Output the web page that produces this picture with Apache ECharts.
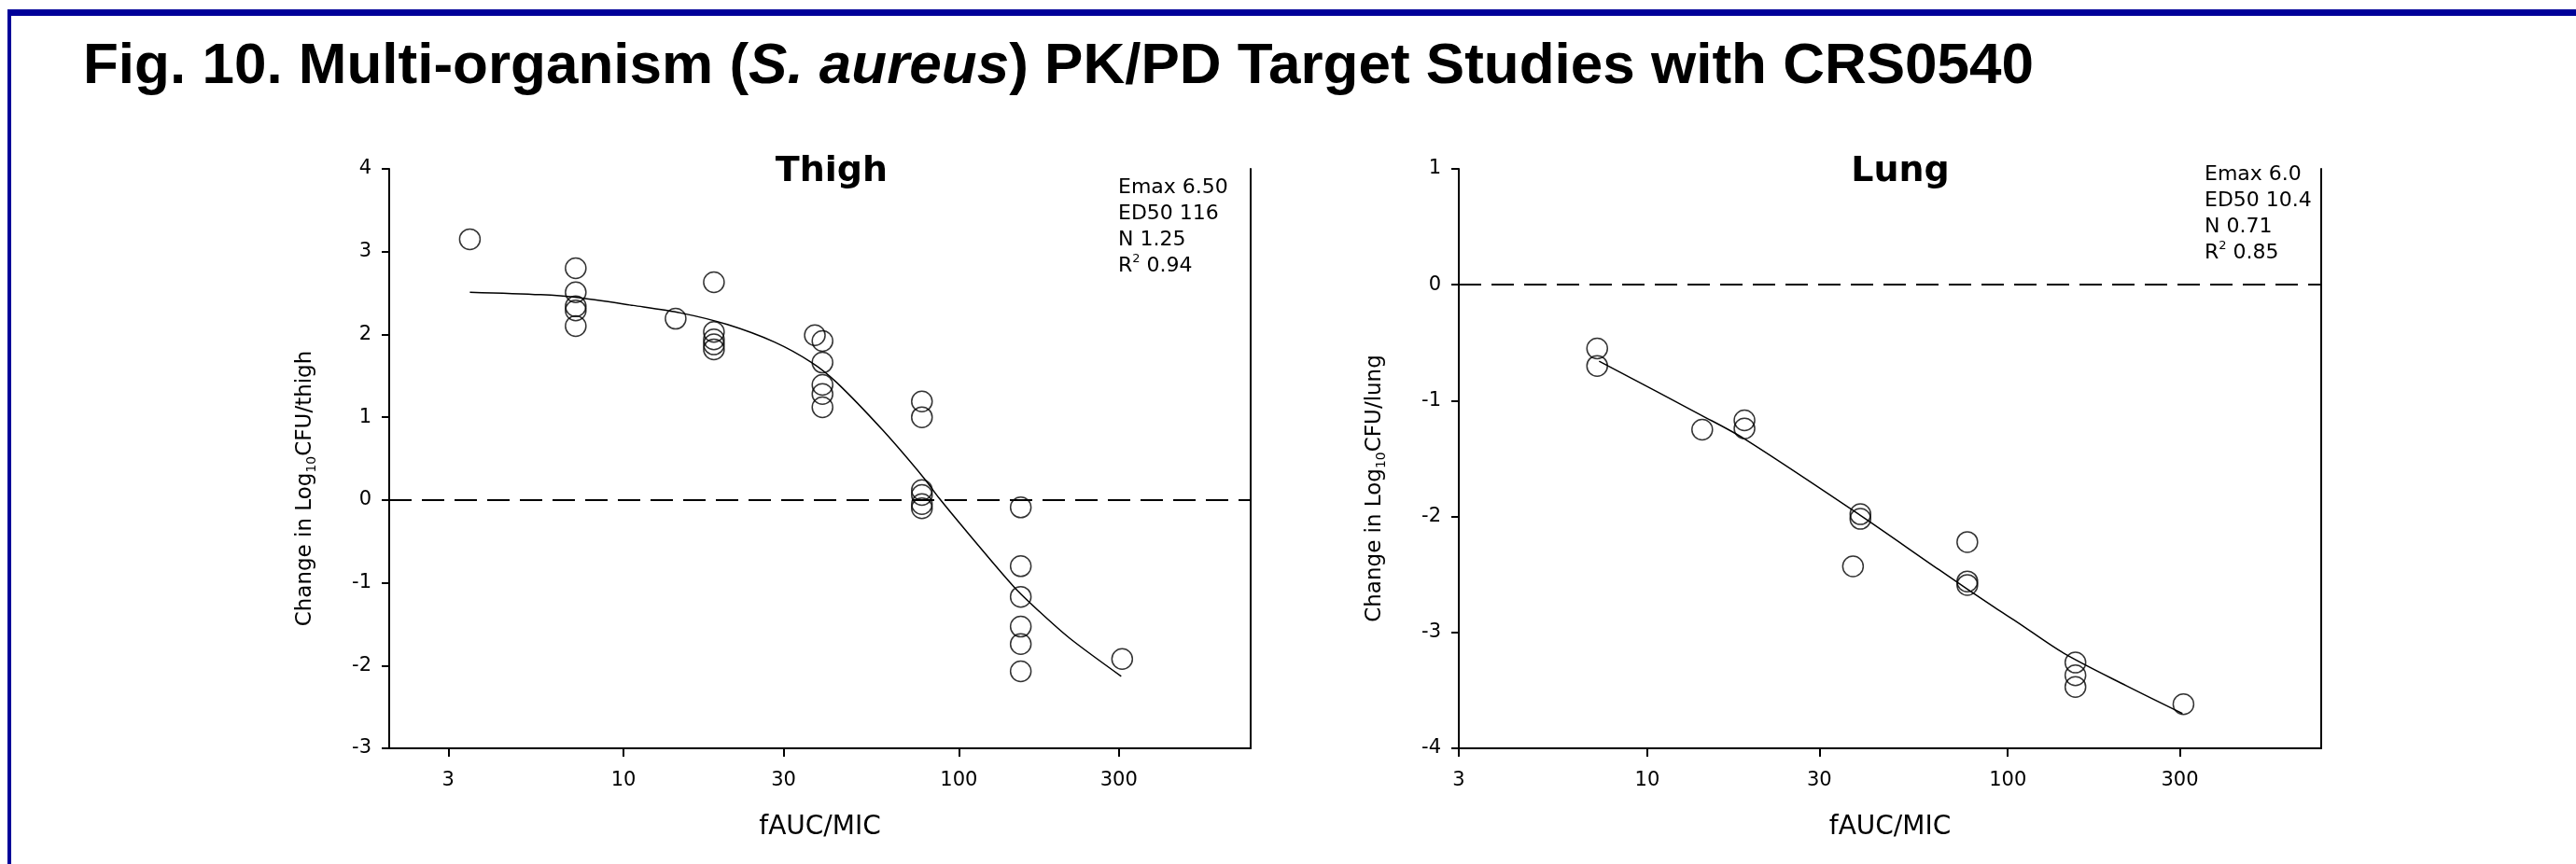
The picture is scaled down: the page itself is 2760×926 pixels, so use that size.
<!DOCTYPE html>
<html>
<head>
<meta charset="utf-8">
<script src="https://cdn.jsdelivr.net/npm/echarts@6/dist/echarts.min.js"></script>
<style>
  html, body { margin: 0; padding: 0; background: #fff; }
  #chart { width: 2760px; height: 926px; }
</style>
</head>
<body>
<div id="chart"></div>
<script>
// tick labels of both fAUC/MIC axes (log scale)
const tickValues = [3, 10, 30, 100, 300];

// Thigh panel: observed points and fitted curve
const thighX = [3.48, 7.2, 7.2, 7.2, 7.2, 7.2, 14.3, 18.6, 18.6, 18.6, 18.6, 18.6, 37.2,
  39.2, 39.2, 39.2, 39.2, 39.2, 77.6, 77.6, 77.6, 77.6, 77.6, 77.6, 153, 153, 153, 153, 153, 153, 307];
const thighY = [3.15, 2.8, 2.51, 2.34, 2.29, 2.1, 2.19, 2.63, 2.03, 1.94, 1.88, 1.82, 1.99,
  1.92, 1.66, 1.39, 1.28, 1.12, 1.19, 1.0, 0.12, 0.06, -0.05, -0.1, -0.09, -0.8, -1.17, -1.53, -1.74, -2.07, -1.92];
const thighFitX = [3.48, 5.66, 7.16, 10.7, 14.8, 20.4, 28.1, 36.4, 43.2, 59.4, 78.5, 87.4, 108, 146, 173, 214, 305];
const thighFitY = [2.51, 2.48, 2.45, 2.35, 2.26, 2.12, 1.91, 1.66, 1.42, 0.84, 0.27, 0.02, -0.43, -1.05, -1.34, -1.67, -2.13];
const thighParams = ['6.50', '116', '1.25', '0.94'];   // Emax, ED50, N, R2

// Lung panel
const lungX = [7.26, 7.26, 14.2, 18.6, 18.6, 37.2, 39.0, 39.0, 77.2, 77.2, 77.2, 154, 154, 154, 307];
const lungY = [-0.55, -0.70, -1.25, -1.17, -1.24, -2.43, -1.98, -2.02, -2.22, -2.56, -2.59, -3.26, -3.37, -3.47, -3.62];
const lungFitX = [7.35, 14.2, 18.6, 39.0, 64.5, 92.4, 106, 143, 213, 305];
const lungFitY = [-0.66, -1.13, -1.33, -1.99, -2.46, -2.79, -2.91, -3.18, -3.46, -3.70];
const lungParams = ['6.0', '10.4', '0.71', '0.85'];

const FONT = 'DejaVu Sans';
const log = v => Math.log10(v);
const pairs = (xs, ys) => xs.map((x, i) => [log(x), ys[i]]);

const chart = echarts.init(document.getElementById('chart'));

function xAxisFor(gridIndex, range) {
    return {
        type: 'value', gridIndex: gridIndex,
        min: log(range[0]), max: log(range[1]),
        name: 'fAUC/MIC', nameLocation: 'middle', nameGap: 71,
        nameTextStyle: { fontFamily: FONT, fontSize: 28, color: '#000' },
        axisLine: { onZero: false, lineStyle: { color: '#000', width: 2 } },
        axisTick: { show: true, length: 9, customValues: tickValues.map(log), lineStyle: { color: '#000', width: 2 } },
        axisLabel: {
            customValues: tickValues.map(log), margin: 24,
            formatter: v => String(Math.round(Math.pow(10, v))),
            fontFamily: FONT, fontSize: 21, color: '#000'
        },
        splitLine: { show: false }
    };
}

function yAxisFor(gridIndex, min, max, organ) {
    return {
        type: 'value', gridIndex: gridIndex, min: min, max: max, interval: 1,
        name: '{t|Change in Log}{s|10}{t|CFU/' + organ + '}',
        nameLocation: 'middle', nameRotate: 90, nameGap: 76,
        nameTextStyle: {
            padding: [0, 64, 0, 0],
            rich: {
                t: { fontFamily: FONT, fontSize: 23, lineHeight: 28, color: '#000' },
                s: { fontFamily: FONT, fontSize: 14, lineHeight: 14, verticalAlign: 'bottom', color: '#000' }
            }
        },
        axisLine: { show: true, onZero: false, lineStyle: { color: '#000', width: 2 } },
        axisTick: { show: true, length: 8, lineStyle: { color: '#000', width: 2 } },
        axisLabel: { margin: 19, fontFamily: FONT, fontSize: 21, color: '#000' },
        splitLine: { show: false }
    };
}

// right frame line of each panel
function borderAxis(gridIndex, min, max) {
    return {
        type: 'value', gridIndex: gridIndex, min: min, max: max, position: 'right',
        axisLine: { show: true, onZero: false, lineStyle: { color: '#000', width: 2 } },
        axisTick: { show: false }, axisLabel: { show: false }, splitLine: { show: false }
    };
}

function statsText(p) {
    return '{r|Emax ' + p[0] + '}\n{r|ED50 ' + p[1] + '}\n{r|N ' + p[2] + '}\n{r|R}{sup|2}{r| ' + p[3] + '}';
}
const statsStyle = {
    fontFamily: FONT, fontSize: 22, fontWeight: 'normal', lineHeight: 28, color: '#000',
    rich: {
        r: { fontFamily: FONT, fontSize: 22, fontWeight: 'normal', lineHeight: 28, color: '#000' },
        sup: { fontFamily: FONT, fontSize: 13, fontWeight: 'normal', lineHeight: 13, verticalAlign: 'top', color: '#000' }
    }
};

const zeroLine = {
    silent: true, symbol: ['none', 'none'], label: { show: false },
    lineStyle: { type: [24, 11], color: '#000', width: 2 },
    data: [{ yAxis: 0 }]
};

const pointStyle = { color: 'rgba(0,0,0,0)', borderColor: '#000', borderWidth: 1.5 };

const option = {
    animation: false,
    backgroundColor: '#fff',
    title: [
        {
            text: '{b|Fig. 10. Multi-organism (}{bi|S. aureus}{b|) PK/PD Target Studies with CRS0540}',
            left: 84, top: 36,
            textStyle: {
                rich: {
                    b: { fontFamily: 'Liberation Sans', fontWeight: 'bold', fontSize: 62, color: '#000' },
                    bi: { fontFamily: 'Liberation Sans', fontWeight: 'bold', fontStyle: 'italic', fontSize: 62, color: '#000' }
                }
            }
        },
        { text: 'Thigh', left: 886, top: 160, textAlign: 'center',
          textStyle: { fontFamily: FONT, fontWeight: 'bold', fontSize: 38, color: '#000' } },
        { text: 'Lung', left: 2031, top: 160, textAlign: 'center',
          textStyle: { fontFamily: FONT, fontWeight: 'bold', fontSize: 38, color: '#000' } },
        { text: statsText(thighParams), left: 1193, top: 182, textStyle: statsStyle },
        { text: statsText(lungParams), left: 2357, top: 168, textStyle: statsStyle }
    ],
    graphic: [
        // dark blue poster frame
        { type: 'rect', shape: { x: 8, y: 10, width: 2752, height: 7 }, style: { fill: '#000099' } },
        { type: 'rect', shape: { x: 8, y: 10, width: 4, height: 916 }, style: { fill: '#000099' } }
    ],
    grid: [
        { left: 417, top: 181, width: 923, height: 621 },
        { left: 1563, top: 181, width: 924, height: 621 }
    ],
    xAxis: [xAxisFor(0, [2, 742]), xAxisFor(1, [3, 740])],
    yAxis: [
        yAxisFor(0, -3, 4, 'thigh'), borderAxis(0, -3, 4),
        yAxisFor(1, -4, 1, 'lung'), borderAxis(1, -4, 1)
    ],
    series: [
        { type: 'scatter', xAxisIndex: 0, yAxisIndex: 0, data: pairs(thighX, thighY),
          symbol: 'circle', symbolSize: 22, itemStyle: pointStyle, markLine: zeroLine },
        { type: 'line', xAxisIndex: 0, yAxisIndex: 0, data: pairs(thighFitX, thighFitY),
          showSymbol: false, symbol: 'none', smooth: 0.3, lineStyle: { color: '#000', width: 1.5 } },
        { type: 'scatter', xAxisIndex: 1, yAxisIndex: 2, data: pairs(lungX, lungY),
          symbol: 'circle', symbolSize: 22, itemStyle: pointStyle, markLine: zeroLine },
        { type: 'line', xAxisIndex: 1, yAxisIndex: 2, data: pairs(lungFitX, lungFitY),
          showSymbol: false, symbol: 'none', smooth: 0.3, lineStyle: { color: '#000', width: 1.5 } }
    ]
};

chart.setOption(option);
window.addEventListener('resize', () => chart.resize());
</script>
</body>
</html>
